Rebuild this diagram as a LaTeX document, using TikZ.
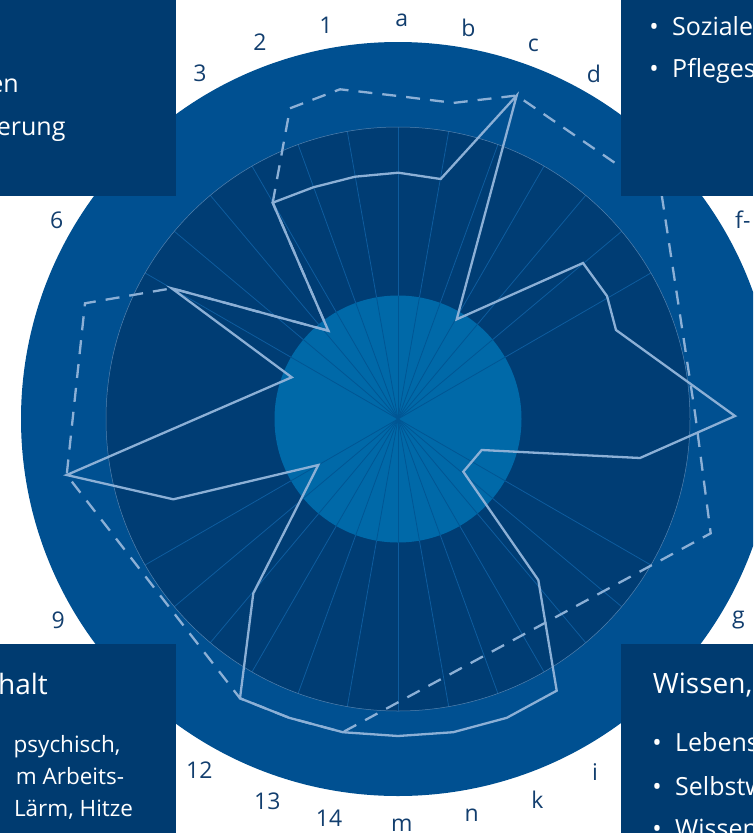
\documentclass[tikz,border=0pt]{standalone}
\usepackage{fontspec}
\setmainfont{Open Sans}
\definecolor{ring}{RGB}{0,80,145}
\definecolor{mid}{RGB}{0,61,116}
\definecolor{core}{RGB}{0,105,168}
\definecolor{boxc}{RGB}{0,59,112}
\definecolor{spokec}{RGB}{14,92,158}
\definecolor{spokein}{RGB}{0,86,148}
\definecolor{linec}{RGB}{140,176,214}
\definecolor{labc}{RGB}{18,62,110}
\tikzset{
  spoke/.style={draw=spokec,line width=0.8pt},
  spokeinner/.style={draw=spokein,line width=0.8pt},
  solidline/.style={draw=linec,line width=2.3pt,line join=miter},
  dashline/.style={draw=linec,line width=2.3pt,dash pattern=on 14pt off 10pt},
  lab/.style={text=labc,font=\fontsize{23}{23}\selectfont,inner sep=0pt},
  btxt/.style={text=white,font=\fontsize{25}{25}\selectfont,inner sep=0pt},
  ptxt/.style={text=white,font=\fontsize{22.5}{22.5}\selectfont,inner sep=0pt},
  htxt/.style={text=white,font=\fontsize{28}{28}\selectfont,inner sep=0pt},
}
\begin{document}
\begin{tikzpicture}[x=1pt,y=-1pt]
\useasboundingbox (0,0) rectangle (753,833);
\clip (0,0) rectangle (753,833);
\coordinate (c) at (398,419);
% discs and spokes
\fill[ring] (c) circle (377);
\fill[mid] (c) circle (292);
\foreach \a in {0,10,...,60} \draw[spoke] (c) -- ++({292*sin(\a)},{-292*cos(\a)});
\foreach \a in {120,130,...,240} \draw[spoke] (c) -- ++({292*sin(\a)},{-292*cos(\a)});
\foreach \a in {300,310,...,350} \draw[spoke] (c) -- ++({292*sin(\a)},{-292*cos(\a)});
\fill[core] (c) circle (123.5);
\foreach \a in {0,10,...,60} \draw[spokeinner] (c) -- ++({123.5*sin(\a)},{-123.5*cos(\a)});
\foreach \a in {120,130,...,240} \draw[spokeinner] (c) -- ++({123.5*sin(\a)},{-123.5*cos(\a)});
\foreach \a in {300,310,...,350} \draw[spokeinner] (c) -- ++({123.5*sin(\a)},{-123.5*cos(\a)});
\draw[draw=linec!60!mid,line width=0.5pt] (c) circle (292);
% dashed profile
\draw[dashline] (272.7,202.7) -- (290,108.3) -- (340,89.3) -- (398,96) -- (453.6,102.9)
  -- (516.7,95.5) -- (661.7,195) -- (695,413) -- (710.7,533.3) -- (342.8,732.2)
  -- (289.2,717.8) -- (240,698.3) -- (66.7,475) -- (85,303.3) -- (171.7,288.3)
  -- (328.3,330.7) -- cycle;
% solid profile
\draw[solidline] (398.3,172.7) -- (440.7,179) -- (516.7,95.5) -- (456.7,319.3)
  -- (583,263) -- (607,296) -- (616,330) -- (735,416) -- (640,458)
  -- (481.7,450) -- (463.3,471.7) -- (538.3,580) -- (556.7,690.7)
  -- (506.8,717.8) -- (453.2,732.2) -- (398,736) -- (342.8,732.2) -- (289.2,717.8)
  -- (240,698.3) -- (253.3,593.3) -- (318.3,465) -- (173.3,499.3) -- (66.7,475)
  -- (291.7,377.3) -- (171.7,288.3) -- (328.3,330.7) -- (272.7,202.7)
  -- (313.3,187.3) -- (355,176.7) -- cycle;
% boxes
\fill[boxc] (0,0) rectangle (176,196);
\fill[boxc] (621,0) rectangle (753,196);
\fill[boxc] (0,644) rectangle (176,833);
\fill[boxc] (621,644) rectangle (753,833);
% box texts
\node[btxt,anchor=base east] (tl1) at (19,92.7) {en};
\node[btxt,anchor=base east] (tl2) at (65.7,135) {erung};
\node[btxt,anchor=base] (tr1b) at (654,35) {•};
\node[btxt,anchor=base west] (tr1) at (672,35) {Soziale};
\node[btxt,anchor=base] (tr2b) at (654,77.3) {•};
\node[btxt,anchor=base west] (tr2) at (672,77.3) {Pfleges};
\node[htxt,anchor=base east] (bl0) at (48,694) {halt};
\node[ptxt,anchor=base east] (bl1) at (120.7,752) {psychisch,};
\node[ptxt,anchor=base east] (bl2) at (124.3,784) {m Arbeits-};
\node[ptxt,anchor=base east] (bl3) at (133.3,816) {Lärm, Hitze};
\node[htxt,anchor=base west] (br0) at (652.7,693.3) {Wissen,};
\node[btxt,anchor=base] (br1b) at (657,751.7) {•};
\node[btxt,anchor=base west] (br1) at (675,751.7) {Lebens};
\node[btxt,anchor=base] (br2b) at (657,795) {•};
\node[btxt,anchor=base west] (br2) at (675,795) {Selbstw};
\node[btxt,anchor=base] (br3b) at (657,837) {•};
\node[btxt,anchor=base west] (br3) at (675,837) {Wissen};
% axis labels
\node[lab] (la) at (401.7,20) {a};
\node[lab] (lb) at (468.3,28.3) {b};
\node[lab] (lc) at (533.3,45) {c};
\node[lab] (ld) at (594,74) {d};
\node[lab,anchor=west] (lf) at (735,220) {f-};
\node[lab] (lg) at (738.3,620) {g};
\node[lab] (li) at (595,771.7) {i};
\node[lab] (lk) at (537.3,800) {k};
\node[lab] (ln) at (471.7,815) {n};
\node[lab] (lm) at (401.7,825) {m};
\node[lab] (l14) at (329,818.3) {14};
\node[lab] (l13) at (267.3,801.7) {13};
\node[lab] (l12) at (199.3,770) {12};
\node[lab] (l9) at (58.3,620) {9};
\node[lab] (l6) at (56.7,220) {6};
\node[lab] (l3) at (200,73.3) {3};
\node[lab] (l2) at (260,41.7) {2};
\node[lab] (l1) at (326,25) {1};
\end{tikzpicture}
\end{document}
